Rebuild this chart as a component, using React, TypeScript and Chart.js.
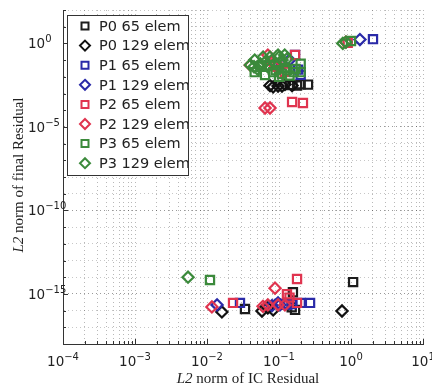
import React, { useEffect, useRef } from "react";
import { Chart, registerables } from "chart.js";

Chart.register(...registerables);

// ---------- data ----------
const seriesLabels = [
  "P0 65 elem",
  "P0 129 elem",
  "P1 65 elem",
  "P1 129 elem",
  "P2 65 elem",
  "P2 129 elem",
  "P3 65 elem",
  "P3 129 elem",
];
const seriesColors = ["#1c1c1c", "#111111", "#2a2aa8", "#2a2aa8", "#e0344f", "#e0344f", "#3b8a3b", "#3b8a3b"];
const seriesShapes = ["rect", "rectRot", "rect", "rectRot", "rect", "rectRot", "rect", "rectRot"];

const p0e65X = [0.253, 0.2, 0.178, 0.142, 0.0337, 0.156, 0.167, 1.07, 0.15];
const p0e65Y = [0.0034, 0.0036, 0.003, 0.0032, 1.26e-16, 1.26e-15, 1.1e-16, 5.1e-15, 1.6e-16];

const p0e129X = [0.075, 0.083, 0.097, 0.11, 0.121, 0.152, 0.0161, 0.058, 0.07, 0.083, 0.75];
const p0e129Y = [0.003, 0.0025, 0.0028, 0.0028, 0.0035, 0.003, 8.3e-17, 9.5e-17, 1.45e-16, 1.1e-16, 9.5e-17];

const p1e65X = [2.02, 0.167, 0.184, 0.2, 0.0287, 0.1, 0.12, 0.15, 0.2, 0.27, 0.13];
const p1e65Y = [1.8, 0.2, 0.027, 0.013, 2.9e-16, 2.5e-16, 2.5e-16, 2.5e-16, 2.9e-16, 2.9e-16, 2.2e-16];

const p1e129X = [1.33, 0.14, 0.11, 0.0138, 0.097, 0.103, 0.08];
const p1e129Y = [1.7, 0.1, 0.05, 2.2e-16, 2.9e-16, 2.2e-16, 2.0e-16];

const p2e65X = [0.152, 0.215, 0.167, 0.095, 0.12, 0.9, 0.023, 0.129, 0.178, 0.178, 0.14];
const p2e65Y = [3.1e-4, 2.7e-4, 0.2, 0.04, 0.02, 1.1, 2.9e-16, 9.5e-16, 7.8e-15, 2.9e-16, 6e-16];

const p2e129X = [0.064, 0.075, 0.04, 0.083, 0.07, 0.85, 0.0117, 0.088, 0.07, 0.121, 0.06, 0.097];
const p2e129Y = [1.35e-4, 1.35e-4, 0.05, 0.06, 0.2, 1.2, 1.66e-16, 2.2e-15, 2.2e-16, 2.2e-16, 1.8e-16, 2.2e-16];

const p3e65X = [0.046, 0.064, 0.083, 0.121, 0.16, 0.2, 0.1, 0.14, 0.2, 0.055, 0.075, 0.09, 0.13, 0.17, 0.11, 1.0, 0.011];
const p3e65Y = [0.019, 0.0128, 0.019, 0.034, 0.019, 0.019, 0.01, 0.012, 0.06, 0.04, 0.05, 0.025, 0.025, 0.03, 0.015, 1.4, 6.8e-15];

const p3e129X = [0.04, 0.046, 0.06, 0.075, 0.097, 0.12, 0.05, 0.07, 0.09, 0.11, 0.065, 0.055, 0.08, 0.1, 0.13, 0.045, 0.77, 0.85, 0.00545];
const p3e129Y = [0.051, 0.1, 0.15, 0.15, 0.2, 0.2, 0.03, 0.04, 0.06, 0.1, 0.08, 0.06, 0.1, 0.15, 0.12, 0.04, 1.0, 1.2, 1.0e-14];

const seriesX = [p0e65X, p0e129X, p1e65X, p1e129X, p2e65X, p2e129X, p3e65X, p3e129X];
const seriesY = [p0e65Y, p0e129Y, p1e65Y, p1e129Y, p2e65Y, p2e129Y, p3e65Y, p3e129Y];

const xMinExp = -4;
const xMaxExp = 1;
const yMinExp = -18;
const yMaxExp = 2;
const xTickExps = [-4, -3, -2, -1, 0, 1];
const yTickExps = [0, -5, -10, -15];

const xTitleItalic = "L2";
const xTitleRest = " norm of IC Residual";
const yTitleItalic = "L2";
const yTitleRest = " norm of final Residual";

// ---------- helpers ----------
function buildXTicks() {
  const t: { value: number; major: boolean }[] = [];
  for (let e = xMinExp; e < xMaxExp; e++) {
    for (let m = 1; m <= 9; m++) t.push({ value: m * Math.pow(10, e), major: m === 1 });
  }
  t.push({ value: Math.pow(10, xMaxExp), major: true });
  return t;
}
function buildYTicks() {
  const t: { value: number; major: boolean }[] = [];
  for (let e = yMinExp; e <= yMaxExp; e++) t.push({ value: Math.pow(10, e), major: e % 5 === 0 });
  return t;
}

const SANS = '"DejaVu Sans", sans-serif';
const SERIF = '"Liberation Serif", "DejaVu Serif", serif';

function powParts(exp: number) {
  return { base: "10", sup: exp < 0 ? "\u2212" + String(-exp) : String(exp) };
}

const decorPlugin = {
  id: "decor",
  afterDraw(chart: any) {
    const ctx: CanvasRenderingContext2D = chart.ctx;
    const xs = chart.scales.x;
    const ys = chart.scales.y;
    const area = chart.chartArea;
    ctx.save();

    // inward tick marks
    ctx.strokeStyle = "#333";
    ctx.lineWidth = 1;
    ctx.beginPath();
    for (const t of buildXTicks()) {
      const px = Math.round(xs.getPixelForValue(t.value)) + 0.5;
      const len = t.major ? 5 : 3;
      ctx.moveTo(px, area.bottom);
      ctx.lineTo(px, area.bottom - len);
    }
    for (const t of buildYTicks()) {
      const py = Math.round(ys.getPixelForValue(t.value)) + 0.5;
      const len = t.major ? 5 : 3;
      ctx.moveTo(area.left, py);
      ctx.lineTo(area.left + len, py);
    }
    ctx.stroke();

    // tick labels
    ctx.fillStyle = "#222";
    ctx.textBaseline = "alphabetic";
    for (const e of xTickExps) {
      const px = xs.getPixelForValue(Math.pow(10, e));
      const { base, sup } = powParts(e);
      ctx.font = "13.5px " + SANS;
      const wb = ctx.measureText(base).width;
      ctx.font = "10px " + SANS;
      const ws = ctx.measureText(sup).width;
      const start = px - (wb + ws) / 2;
      const baseY = area.bottom + 22;
      ctx.font = "13.5px " + SANS;
      ctx.textAlign = "left";
      ctx.fillText(base, start, baseY);
      ctx.font = "10px " + SANS;
      ctx.fillText(sup, start + wb, baseY - 6);
    }
    for (const e of yTickExps) {
      const py = ys.getPixelForValue(Math.pow(10, e));
      const { base, sup } = powParts(e);
      ctx.font = "13.5px " + SANS;
      const wb = ctx.measureText(base).width;
      const start = 28;
      const baseY = py + 5;
      ctx.textAlign = "left";
      ctx.fillText(base, start, baseY);
      ctx.font = "10px " + SANS;
      ctx.fillText(sup, start + wb, baseY - 6);
    }

    // axis titles
    const drawTitle = (it: string, rest: string, cx: number, cy: number, rot: number) => {
      ctx.save();
      ctx.translate(cx, cy);
      ctx.rotate(rot);
      ctx.font = "italic 15px " + SERIF;
      const w1 = ctx.measureText(it).width;
      ctx.font = "15px " + SERIF;
      const w2 = ctx.measureText(rest).width;
      const s = -(w1 + w2) / 2;
      ctx.textAlign = "left";
      ctx.textBaseline = "middle";
      ctx.fillStyle = "#222";
      ctx.font = "italic 15px " + SERIF;
      ctx.fillText(it, s, 0);
      ctx.font = "15px " + SERIF;
      ctx.fillText(rest, s + w1, 0);
      ctx.restore();
    };
    drawTitle(xTitleItalic, xTitleRest, (area.left + area.right) / 2 + 5, area.bottom + 35, 0);
    drawTitle(yTitleItalic, yTitleRest, 19, 175, -Math.PI / 2);

    // legend
    const lx = area.left + 4;
    const ly = area.top + 5;
    const lw = 121;
    const lh = 160;
    ctx.fillStyle = "#ffffff";
    ctx.fillRect(lx, ly, lw, lh);
    ctx.save();
    ctx.beginPath();
    ctx.rect(lx, ly, lw, lh);
    ctx.clip();
    seriesLabels.forEach((label, i) => {
      const cy = ly + 11 + i * 19.6;
      const mx = lx + 18;
      ctx.strokeStyle = seriesColors[i];
      ctx.lineWidth = 2;
      ctx.beginPath();
      if (seriesShapes[i] === "rect") {
        ctx.rect(mx - 3.5, cy - 3.5, 7, 7);
      } else {
        ctx.moveTo(mx, cy - 5);
        ctx.lineTo(mx + 5, cy);
        ctx.lineTo(mx, cy + 5);
        ctx.lineTo(mx - 5, cy);
        ctx.closePath();
      }
      ctx.stroke();
      ctx.fillStyle = "#222";
      ctx.font = "14.5px " + SANS;
      ctx.textAlign = "left";
      ctx.textBaseline = "middle";
      ctx.fillText(label, lx + 32, cy + 1);
    });
    ctx.restore();
    ctx.strokeStyle = "#333";
    ctx.lineWidth = 1;
    ctx.strokeRect(lx + 0.5, ly + 0.5, lw, lh);

    ctx.restore();
  },
};

export default function App() {
  const ref = useRef<HTMLCanvasElement | null>(null);
  useEffect(() => {
    if (!ref.current) return;
    const datasets = seriesLabels.map((label, i) => ({
      label,
      data: seriesX[i].map((x, j) => ({ x, y: seriesY[i][j] })),
      pointStyle: seriesShapes[i],
      pointRadius: seriesShapes[i] === "rect" ? 5.8 : 5.6,
      borderColor: seriesColors[i],
      backgroundColor: "rgba(0,0,0,0)",
      borderWidth: 2.2,
      order: seriesLabels.length - i,
    }));
    const chart = new Chart(ref.current, {
      type: "scatter",
      data: { datasets },
      options: {
        animation: false,
        responsive: false,
        devicePixelRatio: 1,
        layout: { padding: { left: 0, top: 10, right: 9, bottom: 0 } },
        plugins: { legend: { display: false }, tooltip: { enabled: false } },
        scales: {
          x: {
            type: "logarithmic",
            min: Math.pow(10, xMinExp),
            max: Math.pow(10, xMaxExp),
            afterBuildTicks: (s: any) => {
              s.ticks = buildXTicks();
            },
            afterFit: (s: any) => {
              s.height = 45;
            },
            ticks: { display: false },
            grid: {
              color: "rgba(0,0,0,0.28)",
              lineWidth: 1,
              drawTicks: false,
            },
            border: { display: true, color: "#333", width: 1, dash: [1, 3] },
          },
          y: {
            type: "logarithmic",
            min: Math.pow(10, yMinExp),
            max: Math.pow(10, yMaxExp),
            afterBuildTicks: (s: any) => {
              s.ticks = buildYTicks();
            },
            afterFit: (s: any) => {
              s.width = 63;
            },
            ticks: { display: false },
            grid: {
              color: (c: any) => (c.tick && c.tick.major ? "rgba(0,0,0,0.4)" : "rgba(0,0,0,0.22)"),
              lineWidth: 1,
              drawTicks: false,
            },
            border: { display: true, color: "#333", width: 1, dash: [1, 3] },
          },
        },
      },
      plugins: [decorPlugin],
    } as any);
    return () => chart.destroy();
  }, []);
  return (
    <div style={{ position: "fixed", left: 0, top: 0, width: 432, height: 389, background: "#fff" }}>
      <canvas ref={ref} width={432} height={389} style={{ width: 432, height: 389, display: "block" }} />
    </div>
  );
}
